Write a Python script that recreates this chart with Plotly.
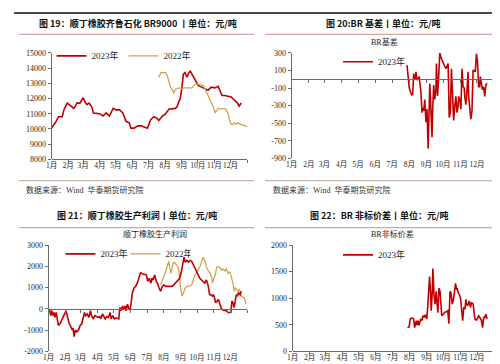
import plotly.graph_objects as go

W, H = 500, 364

# ---------------- data ----------------
month_starts = [0, 31, 59, 90, 120, 151, 181, 212, 243, 273, 304, 334]
month_bounds = [31, 59, 90, 120, 151, 181, 212, 243, 273, 304, 334, 365]
month_labels = ["1月", "2月", "3月", "4月", "5月", "6月", "7月", "8月", "9月", "10月", "11月", "12月"]

# Fig 19: BR9000 price (day of year, yuan/t)
p1_2023_day = [0, 7, 13, 20, 23, 29, 35, 41, 44, 47, 53, 56, 59, 62, 66, 70, 75, 78, 84, 90, 96, 102, 108,
               115, 121, 127, 133, 139, 145, 148, 154, 161, 167, 173, 179, 185, 191, 197, 200, 207, 213, 219,
               225, 231, 234, 237, 240, 243, 246, 249, 253, 256, 259, 262, 265, 268, 271, 274, 280, 286, 292,
               298, 305, 311, 314, 318, 323, 329, 335, 341, 347, 350, 354]
p1_2023_val = [10050, 10400, 10800, 10800, 11250, 11700, 11550, 11350, 11450, 11700, 11700, 11900, 12050,
               11800, 11600, 11700, 11450, 11050, 11000, 11000, 10850, 11050, 10850, 11350, 11250, 11250,
               11050, 10500, 10400, 10050, 10050, 10200, 10200, 10150, 10050, 10600, 10800, 10700, 10550,
               10850, 11000, 11300, 11350, 11350, 11450, 11700, 12000, 12650, 13600, 13700, 13400, 13700,
               13800, 13600, 13400, 13150, 13050, 12850, 12750, 12650, 12550, 12750, 12700, 12800, 12550,
               12200, 12200, 12150, 12100, 11900, 11700, 11500, 11700]
p1_2022_day = [200, 204, 207, 213, 216, 219, 222, 225, 228, 231, 237, 243, 249, 256, 262, 265, 268, 274, 280,
               283, 286, 292, 295, 298, 302, 305, 308, 311, 317, 323, 326, 329, 332, 335, 338, 341, 344, 347,
               353, 360, 365]
p1_2022_val = [13400, 13700, 13700, 13700, 13500, 13050, 12750, 12600, 12350, 12600, 12700, 12650, 12700,
               12700, 12700, 12850, 12950, 12950, 12850, 12850, 12650, 12200, 12000, 11800, 11450, 11050,
               11250, 11350, 11300, 11350, 11250, 11050, 10600, 10300, 10300, 10400, 10300, 10400, 10300,
               10200, 10150]

# Fig 20: BR basis
p2_day = [208, 210, 212, 216, 218, 220, 221, 223, 224, 226, 228, 230, 231, 233, 235, 237, 238, 240, 242, 244,
          246, 247, 249, 251, 253, 254, 256, 258, 260, 261, 263, 265, 267, 269, 271, 275, 278, 282, 284, 286,
          288, 290, 292, 294, 296, 298, 300, 301, 303, 305, 307, 309, 311, 312, 314, 316, 318, 319, 321, 323,
          325, 327, 329, 331, 333, 335, 337, 339, 340, 342, 344, 346, 348, 350, 352]
p2_val = [160, 30, -100, -175, -175, 65, 10, 10, 85, -10, 10, 30, -45, -140, -380, -325, -360, -230, -490,
          -340, -790, -415, -50, -340, -660, -380, -65, -230, -120, 180, -190, 30, 305, 250, 215, 160, 120,
          180, -435, -380, 120, -160, -470, -305, -195, -380, -305, -195, -230, -340, 120, -85, -100, -195,
          -290, -120, 85, -195, -305, -455, -360, 100, 100, 85, 290, 200, -85, -85, 30, -65, -120, -85, -195,
          -65, -45]

# Fig 21: BR production profit
p3_2023_day = [2, 4, 6, 8, 10, 12, 14, 16, 18, 21, 24, 27, 30, 32, 35, 38, 41, 43, 45, 47, 49, 52, 55, 58, 61,
               64, 66, 68, 71, 74, 77, 79, 82, 85, 88, 91, 94, 96, 99, 101, 104, 107, 110, 113, 115, 118, 121,
               124, 127, 129, 131, 133, 136, 138, 141, 142, 145, 147, 150, 152, 154, 157, 160, 163, 166, 169,
               172, 175, 179, 180, 182, 185, 188, 190, 192, 195, 198, 200, 203, 206, 209, 212, 215, 218, 221,
               224, 227, 230, 233, 236, 239, 241, 244, 246, 249, 251, 254, 257, 260, 263, 266, 269, 272, 275,
               278, 281, 284, 287, 290, 293, 296, 298, 301, 303, 305, 307, 310, 312, 315, 318, 321, 324, 327,
               330, 333, 335, 337, 339, 341, 343, 345, 347, 349, 352, 354]
p3_2023_val = [-60, -320, -90, -320, -170, -400, -170, -400, -780, -700, -550, -400, -210, -90, -400, -700,
               -850, -960, -930, -1310, -1000, -1080, -1000, -780, -700, -400, -170, -320, -240, -400, -90,
               -320, -470, -320, -360, -400, -360, -470, -240, -320, -470, -360, -400, -170, -470, -320, -470,
               -420, -470, -470, 60, -90, 140, -10, 140, -90, 220, 60, -60, 520, 750, 980, 1060, 1210, 1440,
               1700, 1670, 1620, 1620, 1590, 1290, 1440, 1210, 1440, 1360, 1590, 1290, 1210, 980, 830, 1060,
               1130, 1060, 1060, 1060, 1060, 1060, 1130, 1210, 1290, 1360, 1440, 1750, 2050, 2430, 2200,
               2280, 2200, 2280, 2240, 2080, 1930, 1780, 1590, 1440, 1360, 1290, 1210, 1360, 1130, 670, 670,
               600, 670, 520, 290, 370, 450, 220, -10, -60, -60, -90, -170, -170, -170, 370, 290, 60, 520,
               670, 600, 750, 670, 830, 670]
p3_2022_day = [206, 209, 212, 215, 218, 221, 223, 225, 227, 229, 232, 234, 236, 239, 240, 242, 245, 248, 251,
               254, 257, 260, 263, 266, 269, 272, 275, 278, 281, 284, 287, 290, 294, 297, 300, 301, 304, 307,
               309, 312, 315, 318, 321, 324, 327, 330, 333, 336, 339, 341, 343, 346, 348, 351, 354, 357, 360,
               363]
p3_2022_val = [1130, 1290, 1520, 1750, 2050, 2240, 1900, 1670, 1900, 2170, 2170, 2130, 2050, 1900, 1590,
               1130, 600, 750, 980, 1060, 1060, 1090, 1130, 1360, 1590, 1670, 1820, 1980, 2200, 2430, 2280,
               1980, 1780, 1670, 1440, 1210, 1440, 1670, 1980, 1980, 1930, 1820, 1870, 1780, 1870, 1670,
               1750, 1440, 1210, 830, 980, 900, 830, 900, 600, 550, 520, 220]

# Fig 22: BR non-standard spread
p4_day = [208, 211, 213, 216, 219, 221, 224, 225, 227, 229, 232, 234, 236, 238, 240, 243, 245, 246, 248, 250,
          251, 253, 254, 256, 258, 260, 261, 263, 265, 267, 268, 270, 273, 275, 278, 281, 283, 285, 287, 289,
          291, 293, 295, 297, 298, 300, 302, 304, 308, 310, 312, 314, 315, 317, 320, 322, 324, 327, 330, 333,
          335, 337, 339, 342, 344, 346, 348, 350, 352]
p4_val = [446, 460, 610, 630, 610, 446, 580, 490, 580, 490, 610, 580, 670, 640, 690, 610, 890, 1070, 1410,
          1070, 765, 1130, 1560, 1070, 890, 1130, 950, 730, 1190, 1130, 980, 670, 700, 730, 745, 765, 520,
          1130, 1100, 890, 950, 1130, 1280, 1160, 1190, 1100, 1070, 1010, 580, 830, 795, 980, 890, 860, 950,
          830, 920, 890, 610, 590, 640, 670, 640, 580, 446, 640, 640, 700, 610]

# ---------------- styling ----------------
RED = "#C00000"
GOLD = "#CDA550"
AXIS = "#6b6b6b"
TXT = "#262626"
SERIF = "Liberation Serif, Noto Sans CJK SC, serif"
SANS = "Noto Sans CJK SC, sans-serif"


def fx(px):
    return px / W


def fy(py):
    return 1 - py / H


fig = go.Figure()

# panel geometry in pixels: (x0, x1, ytop, ybottom)
panels = {
    1: (38, 236, 42, 151),
    2: (281, 486, 42, 150),
    3: (35, 236, 239, 348),
    4: (282, 486, 239, 348),
}
yranges = {1: [8000, 15000], 2: [-900, 300], 3: [-2000, 3000], 4: [0, 2000]}
ytickvals = {
    1: [8000, 9000, 10000, 11000, 12000, 13000, 14000, 15000],
    2: [-900, -700, -500, -300, -100, 100, 300],
    3: [-2000, -1000, 0, 1000, 2000, 3000],
    4: [0, 500, 1000, 1500, 2000],
}

lw = 1.6
fig.add_trace(go.Scatter(x=p1_2023_day, y=p1_2023_val, mode="lines", name="2023年",
                         line=dict(color=RED, width=lw), xaxis="x", yaxis="y", legend="legend"))
fig.add_trace(go.Scatter(x=p1_2022_day, y=p1_2022_val, mode="lines", name="2022年",
                         line=dict(color=GOLD, width=1.3), xaxis="x", yaxis="y", legend="legend"))
fig.add_trace(go.Scatter(x=p2_day, y=p2_val, mode="lines", name="2023年",
                         line=dict(color=RED, width=lw), xaxis="x2", yaxis="y2", legend="legend2"))
fig.add_trace(go.Scatter(x=p3_2022_day, y=p3_2022_val, mode="lines", name="2022年",
                         line=dict(color=GOLD, width=1.3), xaxis="x3", yaxis="y3", legend="legend3",
                         legendrank=2))
fig.add_trace(go.Scatter(x=p3_2023_day, y=p3_2023_val, mode="lines", name="2023年",
                         line=dict(color=RED, width=lw), xaxis="x3", yaxis="y3", legend="legend3",
                         legendrank=1))
fig.add_trace(go.Scatter(x=p4_day, y=p4_val, mode="lines", name="2023年",
                         line=dict(color=RED, width=lw), xaxis="x4", yaxis="y4", legend="legend4"))
# helper empty traces for tick axes
for xa, ya in (("x5", "y2"), ("x6", "y3"), ("x7", "y"), ("x8", "y4")):
    fig.add_trace(go.Scatter(x=[None], y=[None], xaxis=xa, yaxis=ya, showlegend=False, hoverinfo="skip"))

layout = dict(
    width=W, height=H, margin=dict(l=0, r=0, t=0, b=0),
    paper_bgcolor="white", plot_bgcolor="white", showlegend=True,
    font=dict(family=SERIF, size=8, color=TXT),
)

for k, (x0, x1, yt, yb) in panels.items():
    sx = "" if k == 1 else str(k)
    layout["xaxis" + sx] = dict(
        domain=[fx(x0), fx(x1)], anchor="y" + sx, range=[0, 365],
        tickmode="array", tickvals=month_starts, ticktext=month_labels, tickangle=0,
        showline=False, ticks="", showgrid=False, zeroline=False,
        tickfont=dict(family=SERIF, size=7.5, color=TXT), fixedrange=True,
    )
    layout["yaxis" + sx] = dict(
        domain=[fy(yb), fy(yt)], anchor="x" + sx, range=yranges[k],
        tickmode="array", tickvals=ytickvals[k], ticktext=[str(v) for v in ytickvals[k]],
        showline=True, linecolor=AXIS, linewidth=1, ticks="outside", ticklen=3, tickcolor=AXIS,
        showgrid=False, zeroline=False, tickfont=dict(family=SERIF, size=8, color=TXT),
        fixedrange=True,
    )


# tick axes: bottom line for panels 1/4, zero line for panels 2/3
def tick_axis(overlay, k, yval):
    x0, x1, yt, yb = panels[k]
    lo, hi = yranges[k]
    pos_px = yb - (yval - lo) / (hi - lo) * (yb - yt)
    return dict(
        overlaying=overlay, anchor="free", position=fy(pos_px), domain=[fx(x0), fx(x1)],
        range=[0, 365], tickmode="array", tickvals=month_bounds, showticklabels=False,
        ticks="outside", ticklen=3, tickcolor=AXIS, showline=True, linecolor=AXIS, linewidth=1,
        showgrid=False, zeroline=False, fixedrange=True,
    )


layout["xaxis5"] = tick_axis("x2", 2, 0)
layout["xaxis6"] = tick_axis("x3", 3, 0)
layout["xaxis7"] = tick_axis("x", 1, 8000)
layout["xaxis8"] = tick_axis("x4", 4, 0)

leg_common = dict(orientation="h", bgcolor="rgba(0,0,0,0)", borderwidth=0,
                  font=dict(family=SERIF, size=9, color=TXT), xanchor="left", yanchor="middle",
                  traceorder="normal", itemwidth=30)
layout["legend"] = dict(leg_common, x=fx(38), y=fy(45))
layout["legend2"] = dict(leg_common, x=fx(328), y=fy(51))
layout["legend3"] = dict(leg_common, x=fx(47), y=fy(248), entrywidth=20)
layout["legend4"] = dict(leg_common, x=fx(328), y=fy(249))

fig.update_layout(**layout)

# titles
titles = [
    ("图 19：顺丁橡胶齐鲁石化 BR9000 丨单位：元/吨", 125, 12),
    ("图 20:BR 基差丨单位：元/吨", 373, 12),
    ("图 21：顺丁橡胶生产利润丨单位：元/吨", 124, 209),
    ("图 22：BR 非标价差丨单位：元/吨", 369, 209),
]
for t, x, y in titles:
    fig.add_annotation(text="<b>" + t + "</b>", x=fx(x), y=fy(y), xref="paper", yref="paper",
                       showarrow=False, xanchor="center", yanchor="middle",
                       font=dict(family=SANS, size=9, color="#111111"))

subtitles = [("BR基差", 375, 31), ("顺丁橡胶生产利润", 143, 228), ("BR非标价差", 383, 228)]
for t, x, y in subtitles:
    fig.add_annotation(text=t, x=fx(x), y=fy(y), xref="paper", yref="paper", showarrow=False,
                       xanchor="center", yanchor="middle", font=dict(family=SERIF, size=8, color=TXT))

for x in (10, 260):
    fig.add_annotation(text="数据来源：Wind  华泰期货研究院", x=fx(x), y=fy(182), xref="paper", yref="paper",
                       showarrow=False, xanchor="left", yanchor="middle",
                       font=dict(family=SERIF, size=8, color="#333333"))

# decorative separator lines
seps = [(5, 243, 23), (254, 492, 23), (5, 243, 221), (254, 492, 221), (5, 243, 173), (254, 492, 173)]
for x0, x1, y in seps:
    col = "#D9A3A3" if y != 173 else "#C9B0B0"
    fig.add_shape(type="line", xref="paper", yref="paper", x0=fx(x0), x1=fx(x1), y0=fy(y), y1=fy(y),
                  line=dict(color=col, width=1.2))
fig.add_shape(type="rect", xref="paper", yref="paper", x0=0, x1=1, y0=fy(2), y1=1,
              line=dict(width=0), fillcolor="#4a4a4a")

fig.write_html("out.html")
